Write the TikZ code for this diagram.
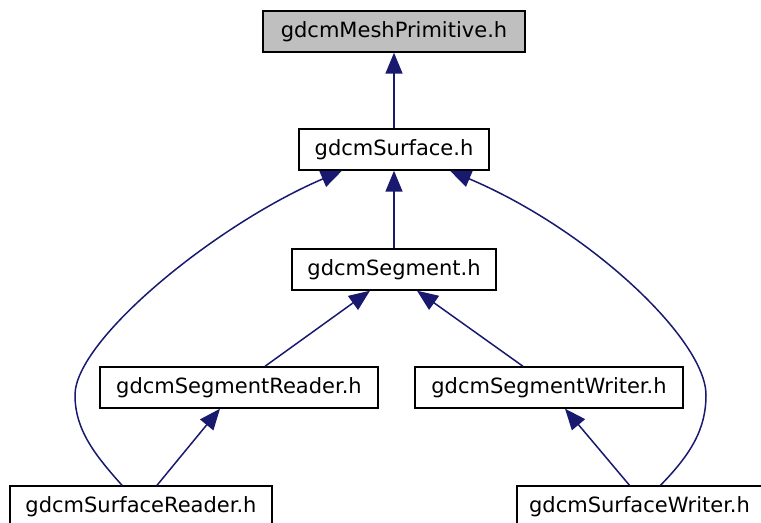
\documentclass[tikz,border=0pt]{standalone}
\usepackage{fontspec}
\setmainfont{DejaVu Sans}
\usetikzlibrary{arrows.meta,calc}
\definecolor{edgeblue}{HTML}{191970}
\definecolor{rootgray}{HTML}{BFBFBF}
\tikzset{
  hbox/.style   ={draw=black, fill=white, line width=0.7pt,
                  minimum height=20.5pt, inner sep=0pt,
                  font=\fontsize{10.5}{12}\selectfont},
  rootbox/.style={hbox, fill=rootgray},
  dep/.style    ={-{Triangle[length=10.5pt,width=8.5pt]}, line width=0.75pt,
                  color=edgeblue},
}
\begin{document}
\begin{tikzpicture}[x=0.5pt,y=-0.5pt]
  \useasboundingbox (0,0) rectangle (761,523);
  \clip (0,0) rectangle (761,523);

  \node[rootbox,minimum width=131pt] (prim) at (394,31.5) {gdcmMeshPrimitive.h};
  \node[hbox,minimum width=95pt]   (surf) at (394,149.5) {gdcmSurface.h};
  \node[hbox,minimum width=102pt]  (seg)  at (394,269.5) {gdcmSegment.h};
  \node[hbox,minimum width=139pt]  (segr) at (239,387.5) {gdcmSegmentReader.h};
  \node[hbox,minimum width=134pt]  (segw) at (549,387.5) {gdcmSegmentWriter.h};
  \node[hbox,minimum width=131pt]  (surfr) at (141,506.5) {gdcmSurfaceReader.h};
  \node[hbox,minimum width=122.5pt] (surfw) at (639.5,506.5) {gdcmSurfaceWriter.h};

  \draw[dep] (surf) -- (prim);
  \draw[dep] (seg) -- (surf);
  \draw[dep] ($(segr.north)+(26,0)$) -- ($(seg.south)+(-24,0)$);
  \draw[dep] ($(segw.north)+(-26,0)$) -- ($(seg.south)+(23,0)$);
  \draw[dep] ($(surfr.north)+(16,0)$) -- ($(segr.south)+(-19,0)$);
  \draw[dep] ($(surfw.north)+(-10,0)$) -- ($(segw.south)+(16,0)$);
  \draw[dep] ($(surfr.north)+(-19,0)$)
    .. controls (95,455) and (75,430) .. (75,395)
    .. controls (75,340) and (215,225) .. ($(surf.south)+(-52,0)$);
  \draw[dep] ($(surfw.north)+(21,0)$)
    .. controls (690,455) and (706,430) .. (706,395)
    .. controls (706,340) and (590,230) .. ($(surf.south)+(56,0)$);
\end{tikzpicture}
\end{document}
